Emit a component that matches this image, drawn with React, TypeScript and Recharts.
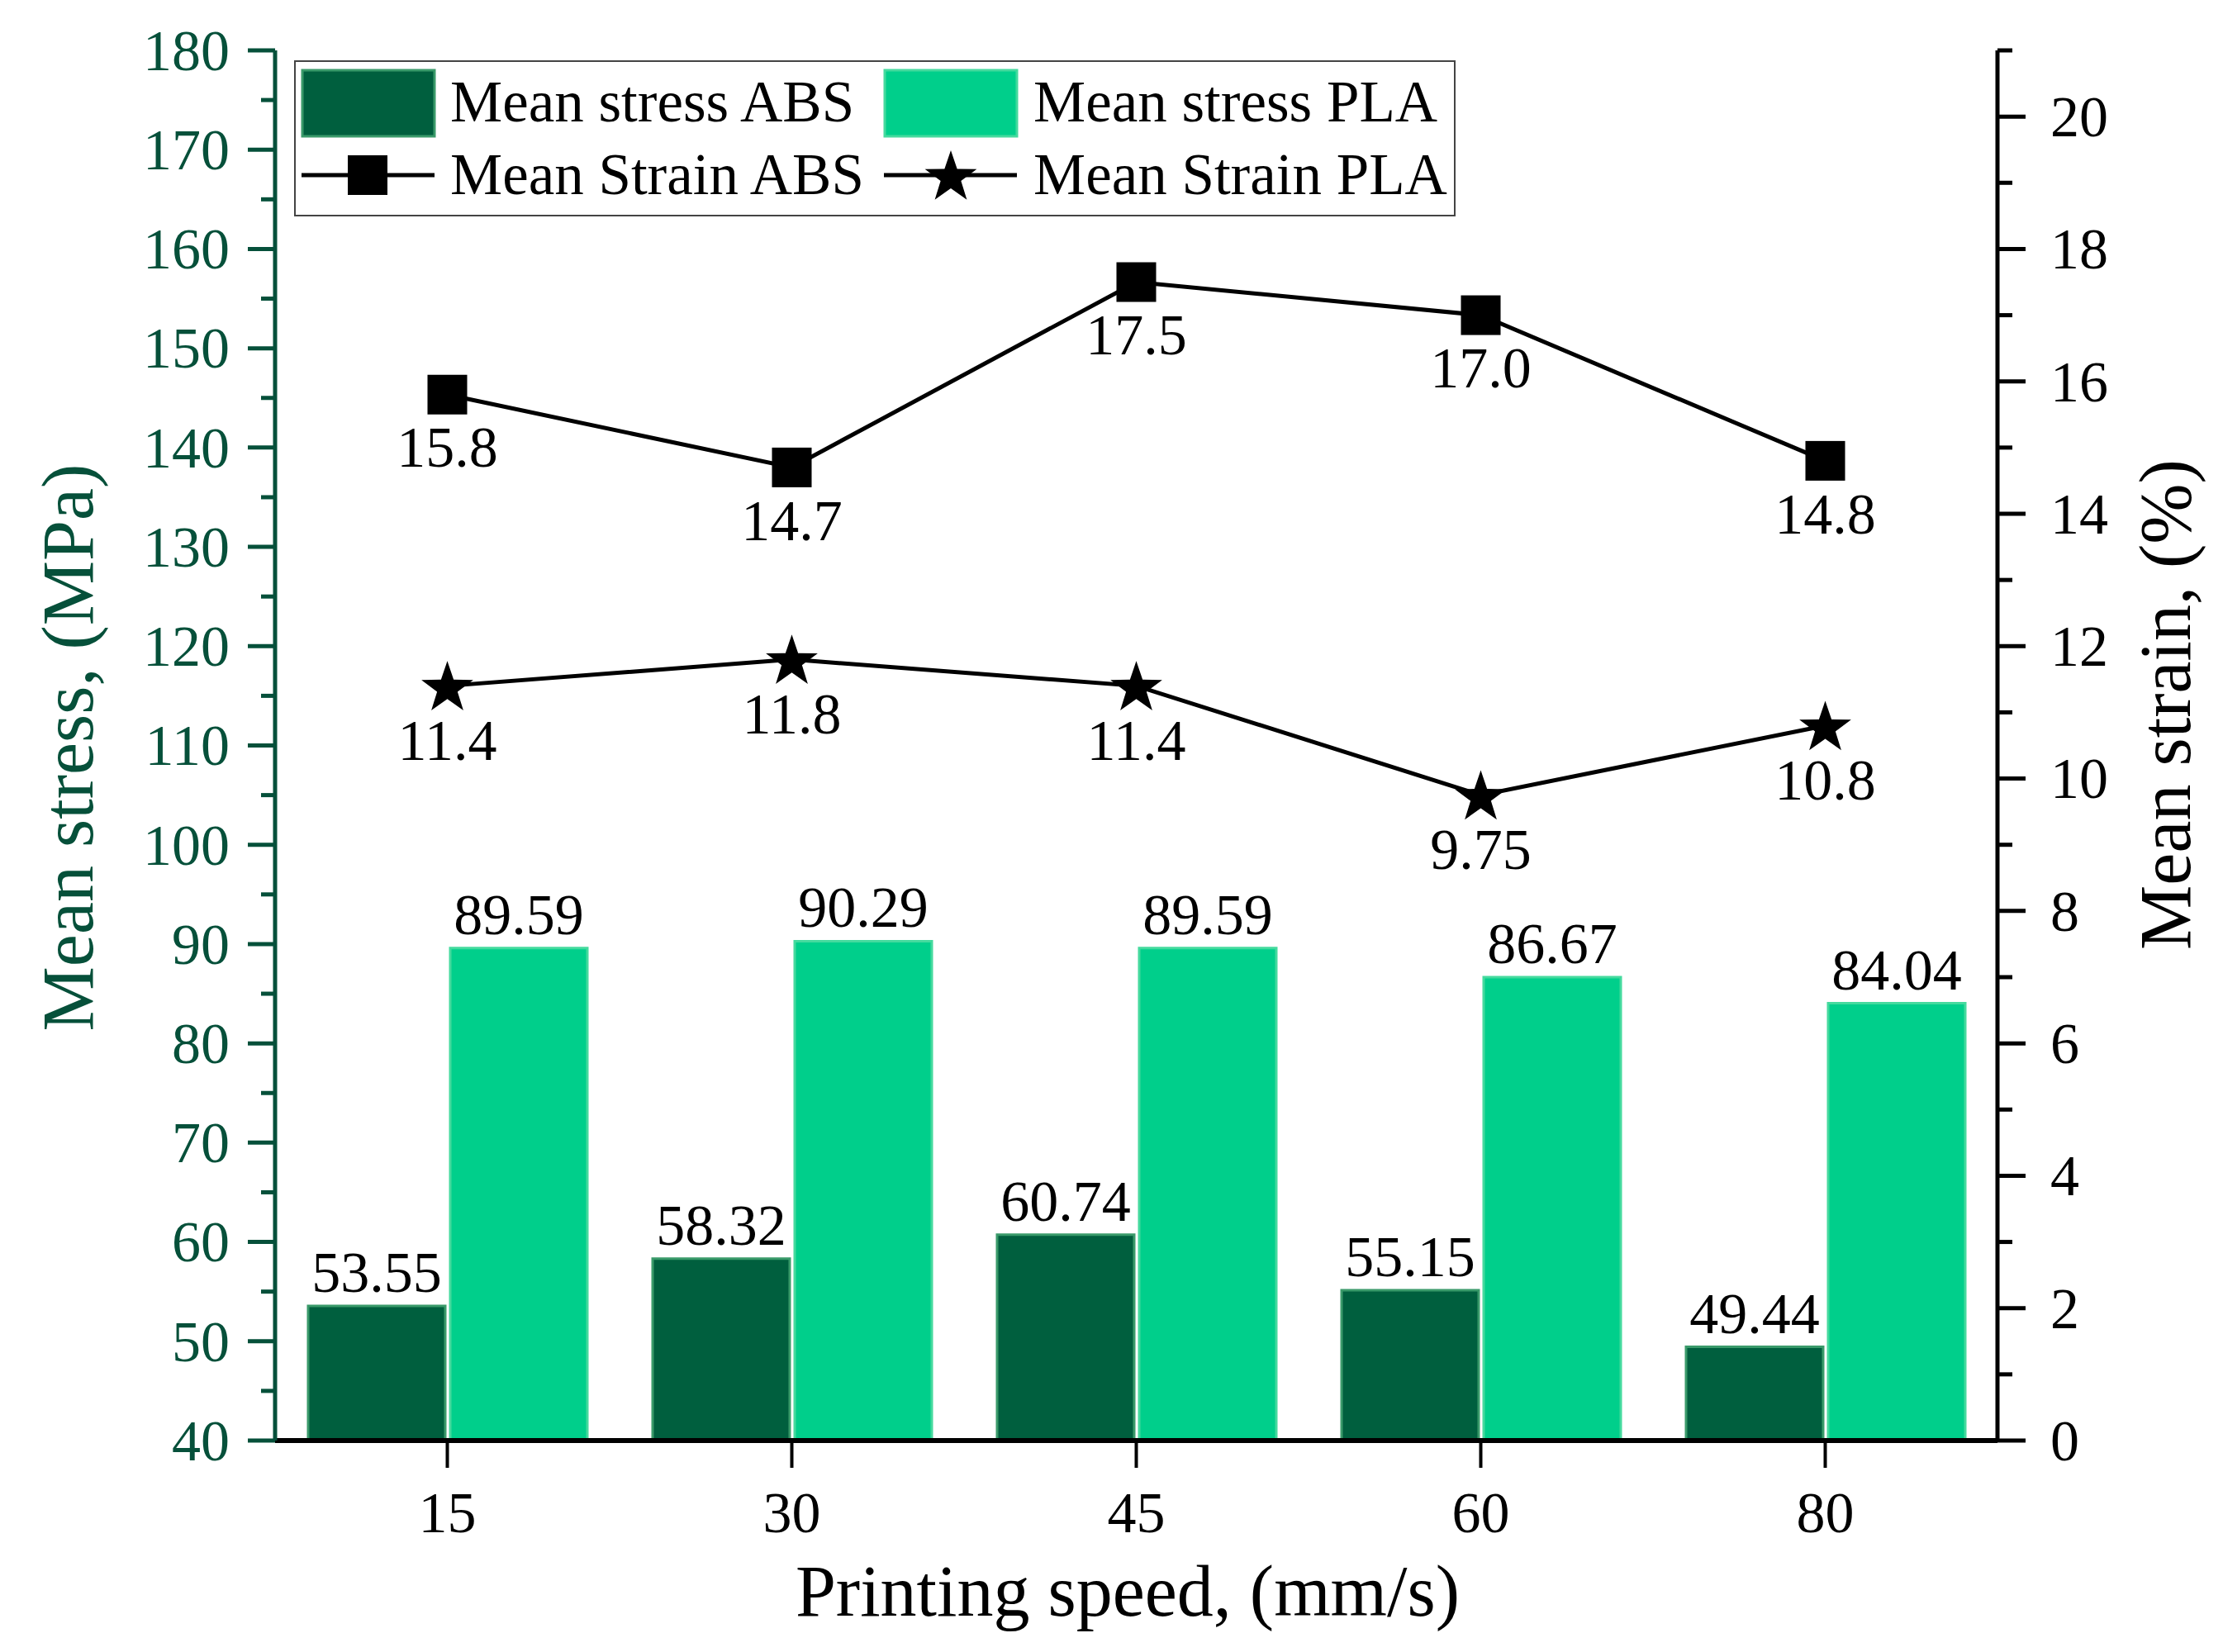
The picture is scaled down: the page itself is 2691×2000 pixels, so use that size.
import { ComposedChart, Bar, Line, XAxis, YAxis, LabelList, Legend } from 'recharts';

const speeds = ['15', '30', '45', '60', '80'];
const stressAbs = [53.55, 58.32, 60.74, 55.15, 49.44];
const stressPla = [89.59, 90.29, 89.59, 86.67, 84.04];
const strainAbs = [15.8, 14.7, 17.5, 17.0, 14.8];
const strainPla = [11.4, 11.8, 11.4, 9.75, 10.8];
const strainAbsText = ['15.8', '14.7', '17.5', '17.0', '14.8'];
const strainPlaText = ['11.4', '11.8', '11.4', '9.75', '10.8'];

const stressTicks = [40, 45, 50, 55, 60, 65, 70, 75, 80, 85, 90, 95, 100, 105, 110, 115, 120, 125, 130, 135, 140, 145, 150, 155, 160, 165, 170, 175, 180];
const strainTicks = [0, 1, 2, 3, 4, 5, 6, 7, 8, 9, 10, 11, 12, 13, 14, 15, 16, 17, 18, 19, 20, 21];

const legendNames = ['Mean stress ABS', 'Mean stress PLA', 'Mean Strain ABS', 'Mean Strain PLA'];

const data = speeds.map((speed, i) => ({
  speed,
  absStress: stressAbs[i],
  plaStress: stressPla[i],
  absStrain: strainAbs[i],
  plaStrain: strainPla[i],
  absStrainText: strainAbsText[i],
  plaStrainText: strainPlaText[i],
}));

const FONT = "'Liberation Serif', 'Times New Roman', serif";
const GREEN = '#06503a';
const ABS_FILL = '#005f3e';
const ABS_EDGE = '#3a9a6a';
const PLA_FILL = '#00cf8b';
const PLA_EDGE = '#45da9e';

function starPoints(cx: number, cy: number, R: number, r: number) {
  const pts: string[] = [];
  for (let i = 0; i < 10; i++) {
    const rad = i % 2 === 0 ? R : r;
    const a = -Math.PI / 2 + (i * Math.PI) / 5;
    pts.push(`${cx + rad * Math.cos(a)},${cy + rad * Math.sin(a)}`);
  }
  return pts.join(' ');
}

const SquareDot = (props: any) => {
  const { cx, cy, index } = props;
  return <rect key={`sq-${index}`} x={cx - 24} y={cy - 24} width={48} height={48} fill="#000" />;
};

const StarDot = (props: any) => {
  const { cx, cy, index } = props;
  return <polygon key={`st-${index}`} points={starPoints(cx, cy + 3, 33, 13)} fill="#000" />;
};

function StressTick({ x, y, payload }: any) {
  const v = payload.value;
  const major = v % 10 === 0;
  const ax = x + 55;
  return (
    <g>
      <line x1={ax - (major ? 33 : 17)} x2={ax} y1={y} y2={y} stroke={GREEN} strokeWidth={5} />
      {major && (
        <text x={x} y={y} dy="0.34em" textAnchor="end" fill={GREEN} fontSize={70} fontFamily={FONT}>
          {v}
        </text>
      )}
    </g>
  );
}

function StrainTick({ x, y, payload }: any) {
  const v = payload.value;
  const major = v % 2 === 0;
  const ax = x - 64;
  return (
    <g>
      <line x1={ax} x2={ax + (major ? 34 : 18)} y1={y} y2={y} stroke="#000" strokeWidth={5} />
      {major && v <= 20 && (
        <text x={x} y={y} dy="0.34em" textAnchor="start" fill="#000" fontSize={70} fontFamily={FONT}>
          {v}
        </text>
      )}
    </g>
  );
}

function ChartLegend() {
  const txt = { fontSize: 71, fontFamily: FONT, fill: '#000' };
  return (
    <svg width={1406} height={189} style={{ display: 'block' }}>
      <rect x={1} y={1} width={1404} height={187} fill="#fff" stroke="#444" strokeWidth={2} />
      <rect x={10} y={12} width={160} height={80} fill={ABS_FILL} stroke={ABS_EDGE} strokeWidth={3} />
      <text x={189} y={74} {...txt}>{legendNames[0]}</text>
      <rect x={715} y={12} width={160} height={80} fill={PLA_FILL} stroke={PLA_EDGE} strokeWidth={3} />
      <text x={895} y={74} {...txt}>{legendNames[1]}</text>
      <line x1={9} x2={170} y1={139} y2={139} stroke="#000" strokeWidth={5} />
      <rect x={65} y={115} width={48} height={48} fill="#000" />
      <text x={189} y={162} {...txt}>{legendNames[2]}</text>
      <line x1={714} x2={875} y1={139} y2={139} stroke="#000" strokeWidth={5} />
      <polygon points={starPoints(795, 142, 33, 13)} fill="#000" />
      <text x={895} y={162} {...txt}>{legendNames[3]}</text>
    </svg>
  );
}

export default function App() {
  return (
    <div style={{ position: 'absolute', left: 0, top: 0, background: '#fff' }}>
      <ComposedChart
        width={2691}
        height={2000}
        data={data}
        margin={{ top: 61, right: 0, bottom: 0, left: 0 }}
        barCategoryGap={40}
        barGap={6}
      >
        <XAxis
          dataKey="speed"
          height={256}
          axisLine={{ stroke: '#000', strokeWidth: 6 }}
          tickLine={{ stroke: '#000', strokeWidth: 4 }}
          tickSize={33}
          tickMargin={28}
          tick={{ fill: '#000', fontSize: 70, fontFamily: FONT }}
          label={{
            content: () => (
              <text x={1365} y={1956} textAnchor="middle" fontSize={88} fontFamily={FONT} fill="#000">
                Printing speed, (mm/s)
              </text>
            ),
          }}
        />
        <XAxis
          xAxisId="top"
          orientation="top"
          dataKey="speed"
          height={0}
          tick={false}
          tickLine={false}
          axisLine={{ stroke: '#000', strokeWidth: 5 }}
        />
        <YAxis
          yAxisId="stress"
          orientation="left"
          width={333}
          domain={[40, 180]}
          ticks={stressTicks}
          interval={0}
          tickSize={33}
          tickMargin={22}
          tickLine={false}
          axisLine={{ stroke: GREEN, strokeWidth: 5 }}
          tick={<StressTick />}
          label={{
            content: () => (
              <text
                x={112}
                y={905}
                transform="rotate(-90, 112, 905)"
                textAnchor="middle"
                fontSize={88}
                fontFamily={FONT}
                fill={GREEN}
              >
                Mean stress, (MPa)
              </text>
            ),
          }}
        />
        <YAxis
          yAxisId="strain"
          orientation="right"
          width={273}
          domain={[0, 21]}
          ticks={strainTicks}
          interval={0}
          tickSize={34}
          tickMargin={30}
          tickLine={false}
          axisLine={{ stroke: '#000', strokeWidth: 5 }}
          tick={<StrainTick />}
          label={{
            content: () => (
              <text
                x={2651}
                y={853}
                transform="rotate(-90, 2651, 853)"
                textAnchor="middle"
                fontSize={88}
                fontFamily={FONT}
                fill="#000"
              >
                Mean strain, (%)
              </text>
            ),
          }}
        />
        <Legend
          layout="vertical"
          align="center"
          verticalAlign="middle"
          content={() => <ChartLegend />}
          wrapperStyle={{ left: 356, top: 73, width: 1406, height: 189 }}
        />
        <Bar
          yAxisId="stress"
          dataKey="absStress"
          name={legendNames[0]}
          fill={ABS_FILL}
          stroke={ABS_EDGE}
          strokeWidth={3}
          isAnimationActive={false}
        >
          <LabelList dataKey="absStress" position="top" offset={17} fill="#000" fontSize={70} fontFamily={FONT} />
        </Bar>
        <Bar
          yAxisId="stress"
          dataKey="plaStress"
          name={legendNames[1]}
          fill={PLA_FILL}
          stroke={PLA_EDGE}
          strokeWidth={3}
          isAnimationActive={false}
        >
          <LabelList dataKey="plaStress" position="top" offset={17} fill="#000" fontSize={70} fontFamily={FONT} />
        </Bar>
        <Line
          yAxisId="strain"
          dataKey="absStrain"
          name={legendNames[2]}
          stroke="#000"
          strokeWidth={5}
          dot={SquareDot}
          activeDot={false}
          isAnimationActive={false}
        >
          <LabelList dataKey="absStrainText" position="bottom" offset={38} fill="#000" fontSize={70} fontFamily={FONT} />
        </Line>
        <Line
          yAxisId="strain"
          dataKey="plaStrain"
          name={legendNames[3]}
          stroke="#000"
          strokeWidth={5}
          dot={StarDot}
          activeDot={false}
          isAnimationActive={false}
        >
          <LabelList dataKey="plaStrainText" position="bottom" offset={40} fill="#000" fontSize={70} fontFamily={FONT} />
        </Line>
      </ComposedChart>
    </div>
  );
}
